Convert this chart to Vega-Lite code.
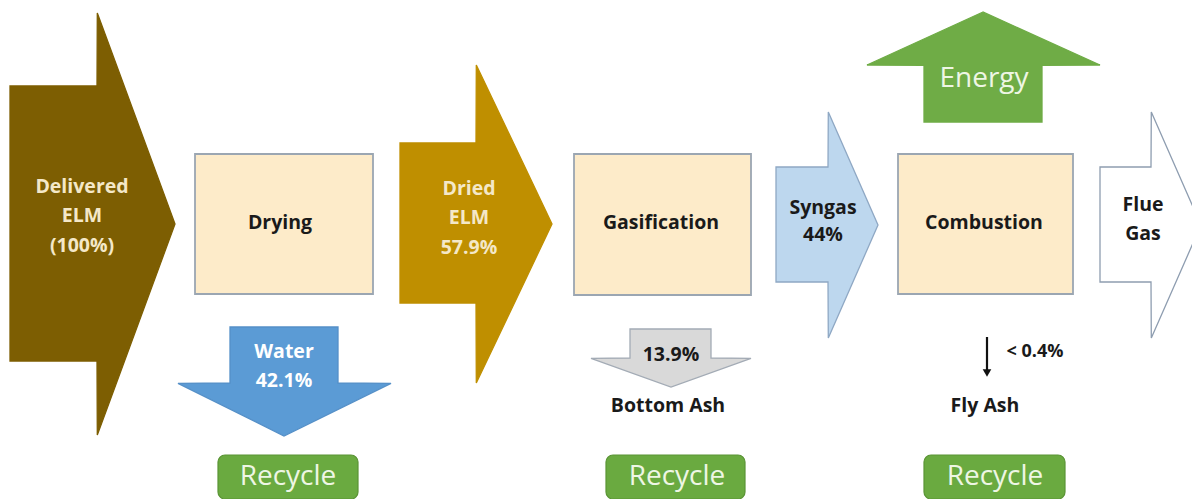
{
  "$schema": "https://vega.github.io/schema/vega-lite/v6.json",
  "width": 1192,
  "height": 499,
  "autosize": {"type": "fit", "contains": "padding"},
  "padding": 0,
  "background": "white",
  "config": {"view": {"stroke": null}},
  "datasets": {
    "arrows": [
      {"name": "Delivered", "dir": "h", "a": 10, "lo": 86, "hi": 361},
      {"name": "Delivered", "dir": "h", "a": 97, "lo": 86, "hi": 361},
      {"name": "Delivered", "dir": "h", "a": 97.3, "lo": 13, "hi": 435},
      {"name": "Delivered", "dir": "h", "a": 175, "lo": 224, "hi": 224},
      {"name": "Dried", "dir": "h", "a": 400, "lo": 143, "hi": 303},
      {"name": "Dried", "dir": "h", "a": 476, "lo": 143, "hi": 303},
      {"name": "Dried", "dir": "h", "a": 476.3, "lo": 65, "hi": 383},
      {"name": "Dried", "dir": "h", "a": 552, "lo": 224, "hi": 224},
      {"name": "Syngas", "dir": "h", "a": 776, "lo": 167, "hi": 282},
      {"name": "Syngas", "dir": "h", "a": 828, "lo": 167, "hi": 282},
      {"name": "Syngas", "dir": "h", "a": 828.3, "lo": 112, "hi": 338},
      {"name": "Syngas", "dir": "h", "a": 878, "lo": 225, "hi": 225},
      {"name": "Flue", "dir": "h", "a": 1100, "lo": 167, "hi": 282},
      {"name": "Flue", "dir": "h", "a": 1151, "lo": 167, "hi": 282},
      {"name": "Flue", "dir": "h", "a": 1151.3, "lo": 112, "hi": 338},
      {"name": "Flue", "dir": "h", "a": 1201, "lo": 225, "hi": 225},
      {"name": "Water", "dir": "v", "a": 327, "lo": 230, "hi": 338},
      {"name": "Water", "dir": "v", "a": 383, "lo": 230, "hi": 338},
      {"name": "Water", "dir": "v", "a": 383.3, "lo": 178, "hi": 391},
      {"name": "Water", "dir": "v", "a": 436, "lo": 284, "hi": 284},
      {"name": "BottomAsh", "dir": "v", "a": 329, "lo": 630, "hi": 711},
      {"name": "BottomAsh", "dir": "v", "a": 358, "lo": 630, "hi": 711},
      {"name": "BottomAsh", "dir": "v", "a": 358.3, "lo": 591, "hi": 751},
      {"name": "BottomAsh", "dir": "v", "a": 387, "lo": 671, "hi": 671},
      {"name": "Energy", "dir": "v", "a": 122, "lo": 924, "hi": 1042},
      {"name": "Energy", "dir": "v", "a": 65.3, "lo": 924, "hi": 1042},
      {"name": "Energy", "dir": "v", "a": 65, "lo": 867, "hi": 1100},
      {"name": "Energy", "dir": "v", "a": 12, "lo": 983, "hi": 983}
    ],
    "boxes": [
      {"name": "Drying", "x1": 195, "x2": 373, "y1": 154, "y2": 294},
      {"name": "Gasification", "x1": 574, "x2": 751, "y1": 154, "y2": 295},
      {"name": "Combustion", "x1": 898, "x2": 1073, "y1": 154, "y2": 294}
    ],
    "recycle": [
      {"x1": 218, "x2": 358, "y1": 455, "y2": 499},
      {"x1": 606, "x2": 745, "y1": 455, "y2": 499},
      {"x1": 924, "x2": 1065, "y1": 455, "y2": 499}
    ],
    "flyash": [
      {"x": 987, "y1": 337, "y2": 372}
    ],
    "labels": [
      {"t": "Delivered", "x": 82, "y": 187, "k": "cream"},
      {"t": "ELM", "x": 82, "y": 216, "k": "cream"},
      {"t": "(100%)", "x": 82, "y": 246, "k": "cream"},
      {"t": "Dried", "x": 469, "y": 189, "k": "cream"},
      {"t": "ELM", "x": 469, "y": 218, "k": "cream"},
      {"t": "57.9%", "x": 469, "y": 248, "k": "cream"},
      {"t": "Water", "x": 284, "y": 352, "k": "white"},
      {"t": "42.1%", "x": 284, "y": 381, "k": "white"},
      {"t": "Drying", "x": 280, "y": 223, "k": "dark"},
      {"t": "Gasification", "x": 661, "y": 223, "k": "dark"},
      {"t": "Combustion", "x": 984, "y": 223, "k": "dark"},
      {"t": "Syngas", "x": 823, "y": 208, "k": "dark"},
      {"t": "44%", "x": 823, "y": 235, "k": "dark"},
      {"t": "Flue", "x": 1143, "y": 205, "k": "dark"},
      {"t": "Gas", "x": 1143, "y": 234, "k": "dark"},
      {"t": "13.9%", "x": 671, "y": 355, "k": "dark"},
      {"t": "Bottom Ash", "x": 668, "y": 406, "k": "dark"},
      {"t": "Fly Ash", "x": 985, "y": 406, "k": "dark"},
      {"t": "< 0.4%", "x": 1035, "y": 352, "k": "small"},
      {"t": "Energy", "x": 984, "y": 79, "k": "big"},
      {"t": "Recycle", "x": 288, "y": 477, "k": "big"},
      {"t": "Recycle", "x": 677, "y": 477, "k": "big"},
      {"t": "Recycle", "x": 995, "y": 477, "k": "big"}
    ]
  },
  "layer": [
    {
      "data": {"name": "arrows"},
      "transform": [{"filter": "datum.dir === 'h'"}],
      "mark": {"type": "area", "orient": "vertical", "interpolate": "linear", "strokeWidth": 1.3, "fillOpacity": 1, "clip": true},
      "encoding": {
        "x": {"field": "a", "type": "quantitative", "axis": null, "scale": {"domain": [0, 1192], "nice": false, "zero": false}},
        "y": {"field": "lo", "type": "quantitative", "axis": null, "scale": {"domain": [0, 499], "nice": false, "zero": false, "reverse": true}},
        "y2": {"field": "hi"},
        "fill": {"field": "name", "type": "nominal", "legend": null,
          "scale": {"domain": ["Delivered", "Dried", "Syngas", "Flue", "Water", "BottomAsh", "Energy"],
                    "range": ["#7d5e02", "#bf8f00", "#bdd7ee", "#ffffff", "#5b9bd5", "#d9d9d9", "#6fac46"]}},
        "stroke": {"field": "name", "type": "nominal", "legend": null,
          "scale": {"domain": ["Delivered", "Dried", "Syngas", "Flue", "Water", "BottomAsh", "Energy"],
                    "range": ["#7d5e02", "#bf8f00", "#8fa8c4", "#8e9db0", "#5590c8", "#a3abb5", "#6fac46"]}}
      }
    },
    {
      "data": {"name": "arrows"},
      "transform": [{"filter": "datum.dir === 'v'"}],
      "mark": {"type": "area", "orient": "horizontal", "interpolate": "linear", "strokeWidth": 1.3, "fillOpacity": 1, "clip": true},
      "encoding": {
        "y": {"field": "a", "type": "quantitative"},
        "x": {"field": "lo", "type": "quantitative"},
        "x2": {"field": "hi"},
        "fill": {"field": "name", "type": "nominal", "legend": null},
        "stroke": {"field": "name", "type": "nominal", "legend": null}
      }
    },
    {
      "data": {"name": "boxes"},
      "mark": {"type": "rect", "fill": "#fdebc9", "stroke": "#9ba6b2", "strokeWidth": 1.8},
      "encoding": {
        "x": {"field": "x1", "type": "quantitative"},
        "x2": {"field": "x2"},
        "y": {"field": "y1", "type": "quantitative"},
        "y2": {"field": "y2"}
      }
    },
    {
      "data": {"name": "recycle"},
      "mark": {"type": "rect", "fill": "#6aaa40", "stroke": "#5a9435", "strokeWidth": 1.2, "cornerRadius": 7, "clip": true},
      "encoding": {
        "x": {"field": "x1", "type": "quantitative"},
        "x2": {"field": "x2"},
        "y": {"field": "y1", "type": "quantitative"},
        "y2": {"field": "y2"}
      }
    },
    {
      "data": {"name": "flyash"},
      "mark": {"type": "rule", "color": "#111111", "strokeWidth": 2.2},
      "encoding": {
        "x": {"field": "x", "type": "quantitative"},
        "y": {"field": "y1", "type": "quantitative"},
        "y2": {"field": "y2"}
      }
    },
    {
      "data": {"name": "flyash"},
      "mark": {"type": "point", "shape": "triangle-down", "filled": true, "color": "#111111", "size": 75, "yOffset": 1, "opacity": 1},
      "encoding": {
        "x": {"field": "x", "type": "quantitative"},
        "y": {"field": "y2", "type": "quantitative"}
      }
    },
    {
      "data": {"name": "labels"},
      "transform": [{"filter": "datum.k === 'cream'"}],
      "mark": {"type": "text", "font": "Open Sans", "fontWeight": "bold", "fontSize": 19.5, "color": "#f4e8c8", "baseline": "middle", "align": "center"},
      "encoding": {
        "x": {"field": "x", "type": "quantitative"},
        "y": {"field": "y", "type": "quantitative"},
        "text": {"field": "t"}
      }
    },
    {
      "data": {"name": "labels"},
      "transform": [{"filter": "datum.k === 'white'"}],
      "mark": {"type": "text", "font": "Open Sans", "fontWeight": "bold", "fontSize": 19.5, "color": "#ffffff", "baseline": "middle", "align": "center"},
      "encoding": {
        "x": {"field": "x", "type": "quantitative"},
        "y": {"field": "y", "type": "quantitative"},
        "text": {"field": "t"}
      }
    },
    {
      "data": {"name": "labels"},
      "transform": [{"filter": "datum.k === 'dark'"}],
      "mark": {"type": "text", "font": "Open Sans", "fontWeight": "bold", "fontSize": 19.5, "color": "#1a1a1a", "baseline": "middle", "align": "center"},
      "encoding": {
        "x": {"field": "x", "type": "quantitative"},
        "y": {"field": "y", "type": "quantitative"},
        "text": {"field": "t"}
      }
    },
    {
      "data": {"name": "labels"},
      "transform": [{"filter": "datum.k === 'small'"}],
      "mark": {"type": "text", "font": "Open Sans", "fontWeight": "bold", "fontSize": 18, "color": "#1a1a1a", "baseline": "middle", "align": "center"},
      "encoding": {
        "x": {"field": "x", "type": "quantitative"},
        "y": {"field": "y", "type": "quantitative"},
        "text": {"field": "t"}
      }
    },
    {
      "data": {"name": "labels"},
      "transform": [{"filter": "datum.k === 'big'"}],
      "mark": {"type": "text", "font": "Open Sans", "fontWeight": "normal", "fontSize": 28, "color": "#eef6e4", "baseline": "middle", "align": "center"},
      "encoding": {
        "x": {"field": "x", "type": "quantitative"},
        "y": {"field": "y", "type": "quantitative"},
        "text": {"field": "t"}
      }
    }
  ]
}
